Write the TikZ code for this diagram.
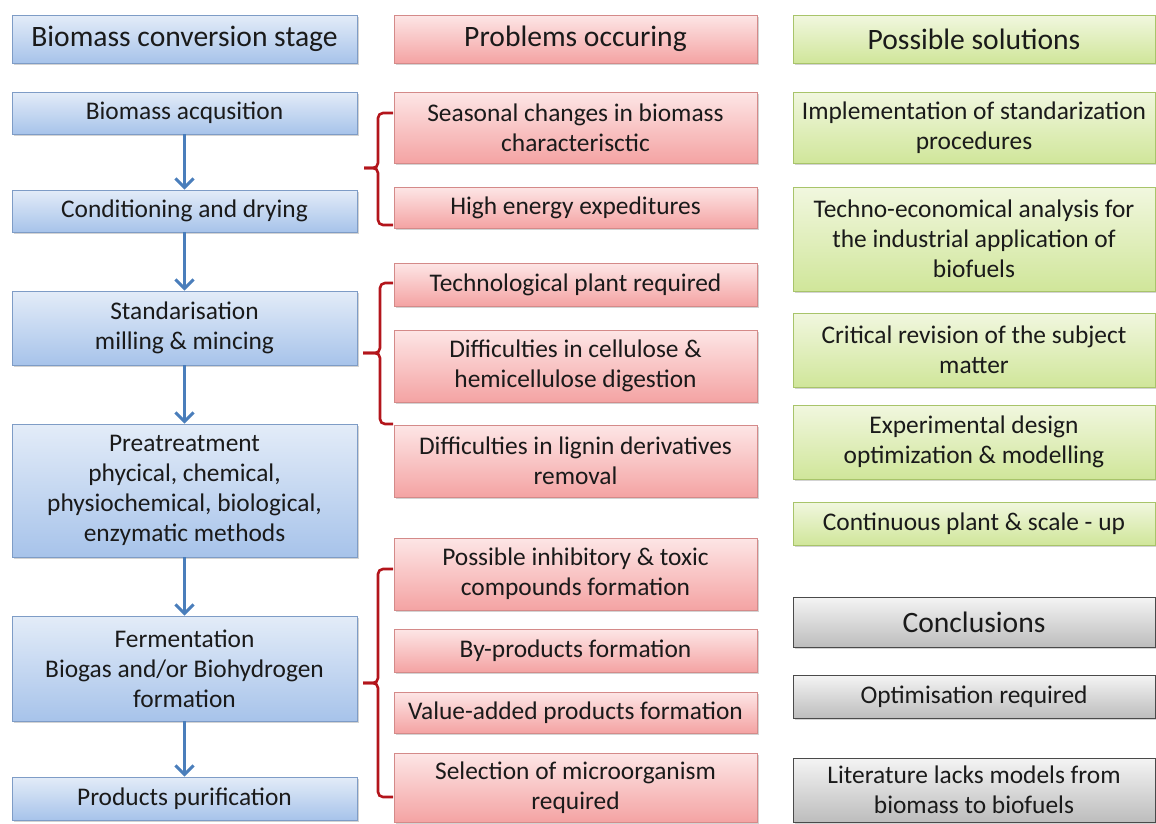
\documentclass[tikz,border=0pt]{standalone}
\usepackage{fontspec}
\setmainfont{Carlito}
\usetikzlibrary{arrows.meta,shadows}
\definecolor{txt}{HTML}{1A1A1A}
\definecolor{bluetop}{HTML}{E3ECF8}
\definecolor{bluebot}{HTML}{A7C3EA}
\definecolor{blueline}{HTML}{7E9CC6}
\definecolor{redtop}{HTML}{FDE6E6}
\definecolor{redbot}{HTML}{F4A3A3}
\definecolor{redline}{HTML}{D48A89}
\definecolor{greentop}{HTML}{F1F7DF}
\definecolor{greenbot}{HTML}{D0E69A}
\definecolor{greenline}{HTML}{A8C46A}
\definecolor{graytop}{HTML}{F4F4F4}
\definecolor{graybot}{HTML}{BDBDBD}
\definecolor{grayline}{HTML}{4A4A4A}
\definecolor{arrowblue}{HTML}{4A7EBB}
\definecolor{bracered}{HTML}{B3151B}
\tikzset{
  basebox/.style={rectangle, inner sep=2pt, align=center, text=txt,
    font=\fontsize{25.4}{30}\selectfont, line width=0.8pt,
    drop shadow={shadow xshift=1.5pt, shadow yshift=-2pt, opacity=0.35}},
  headfont/.style={font=\fontsize{29.6}{35}\selectfont},
  bluebox/.style={basebox, draw=blueline, top color=bluetop, bottom color=bluebot, minimum width=345pt},
  redbox/.style={basebox, draw=redline, top color=redtop, bottom color=redbot, minimum width=363pt},
  greenbox/.style={basebox, draw=greenline, top color=greentop, bottom color=greenbot, minimum width=362pt},
  graybox/.style={basebox, draw=grayline, top color=graytop, bottom color=graybot, minimum width=362pt},
  flowarrow/.style={draw=arrowblue, line width=3pt, -{Straight Barb[length=9pt,width=18pt,line width=3pt]}},
  bracestyle/.style={draw=bracered, line width=2.6pt, rounded corners=5pt},
}
\begin{document}
\begin{tikzpicture}[x=1pt,y=-1pt]
\useasboundingbox (0,0) rectangle (1156,823);
% left column
\node[bluebox, headfont, minimum height=48pt] (lh) at (184.5,39) {Biomass conversion stage};
\node[bluebox, minimum height=42pt] (l1) at (184.5,113) {Biomass acqusition};
\node[bluebox, minimum height=42pt] (l2) at (184.5,211) {Conditioning and drying};
\node[bluebox, minimum height=74pt] (l3) at (184.5,328) {Standarisation\\milling \& mincing};
\node[bluebox, minimum height=133pt] (l4) at (184.5,490.5) {Preatreatment\\phycical, chemical,\\physiochemical, biological,\\enzymatic methods};
\node[bluebox, minimum height=105pt] (l5) at (184.5,668.5) {Fermentation\\Biogas and/or Biohydrogen\\formation};
\node[bluebox, minimum height=43pt] (l6) at (184.5,798.5) {Products purification};
\draw[flowarrow] (l1.south) -- (l2.north);
\draw[flowarrow] (l2.south) -- (l3.north);
\draw[flowarrow] (l3.south) -- (l4.north);
\draw[flowarrow] (l4.south) -- (l5.north);
\draw[flowarrow] (l5.south) -- (l6.north);
% middle column
\node[redbox, headfont, minimum height=48pt] (mh) at (575.5,39) {Problems occuring};
\node[redbox, minimum height=71pt] (m1) at (575.5,127.5) {Seasonal changes in biomass\\characterisctic};
\node[redbox, minimum height=41pt] (m2) at (575.5,207.5) {High energy expeditures};
\node[redbox, minimum height=43pt] (m3) at (575.5,284.5) {Technological plant required};
\node[redbox, minimum height=72pt] (m4) at (575.5,366) {Difficulties in cellulose \&\\hemicellulose digestion};
\node[redbox, minimum height=72pt] (m5) at (575.5,461) {Difficulties in lignin derivatives\\removal};
\node[redbox, minimum height=72pt] (m6) at (575.5,574) {Possible inhibitory \& toxic\\compounds formation};
\node[redbox, minimum height=43pt] (m7) at (575.5,650.5) {By-products formation};
\node[redbox, minimum height=41pt] (m8) at (575.5,712.5) {Value-added products formation};
\node[redbox, minimum height=69pt] (m9) at (575.5,787.5) {Selection of microorganism\\required};
% right column
\node[greenbox, headfont, minimum height=48pt] (rh) at (974,39) {Possible solutions};
\node[greenbox, minimum height=71pt] (r1) at (974,127.5) {Implementation of standarization\\procedures};
\node[greenbox, minimum height=104pt] (r2) at (974,239) {Techno-economical analysis for\\the industrial application of\\biofuels};
\node[greenbox, minimum height=74pt] (r3) at (974,350) {Critical revision of the subject\\matter};
\node[greenbox, minimum height=74pt] (r4) at (974,442) {Experimental design\\optimization \& modelling};
\node[greenbox, minimum height=43pt] (r5) at (974,523.5) {Continuous plant \& scale - up};
\node[graybox, headfont, minimum height=50pt] (c0) at (974,622) {Conclusions};
\node[graybox, minimum height=43pt] (c1) at (974,696.5) {Optimisation required};
\node[graybox, minimum height=64pt] (c2) at (974,790) {Literature lacks models from\\biomass to biofuels};
% brackets
\draw[bracestyle] (393,113) -- (378,113) -- (378,168) -- (364,168);
\draw[bracestyle] (364,168) -- (378,168) -- (378,225) -- (393,225);
\draw[bracestyle] (393,283) -- (380,283) -- (380,353) -- (363,353);
\draw[bracestyle] (363,353) -- (380,353) -- (380,424) -- (393,424);
\draw[bracestyle] (393,569) -- (378,569) -- (378,683) -- (363,683);
\draw[bracestyle] (363,683) -- (378,683) -- (378,797) -- (393,797);
\end{tikzpicture}
\end{document}
